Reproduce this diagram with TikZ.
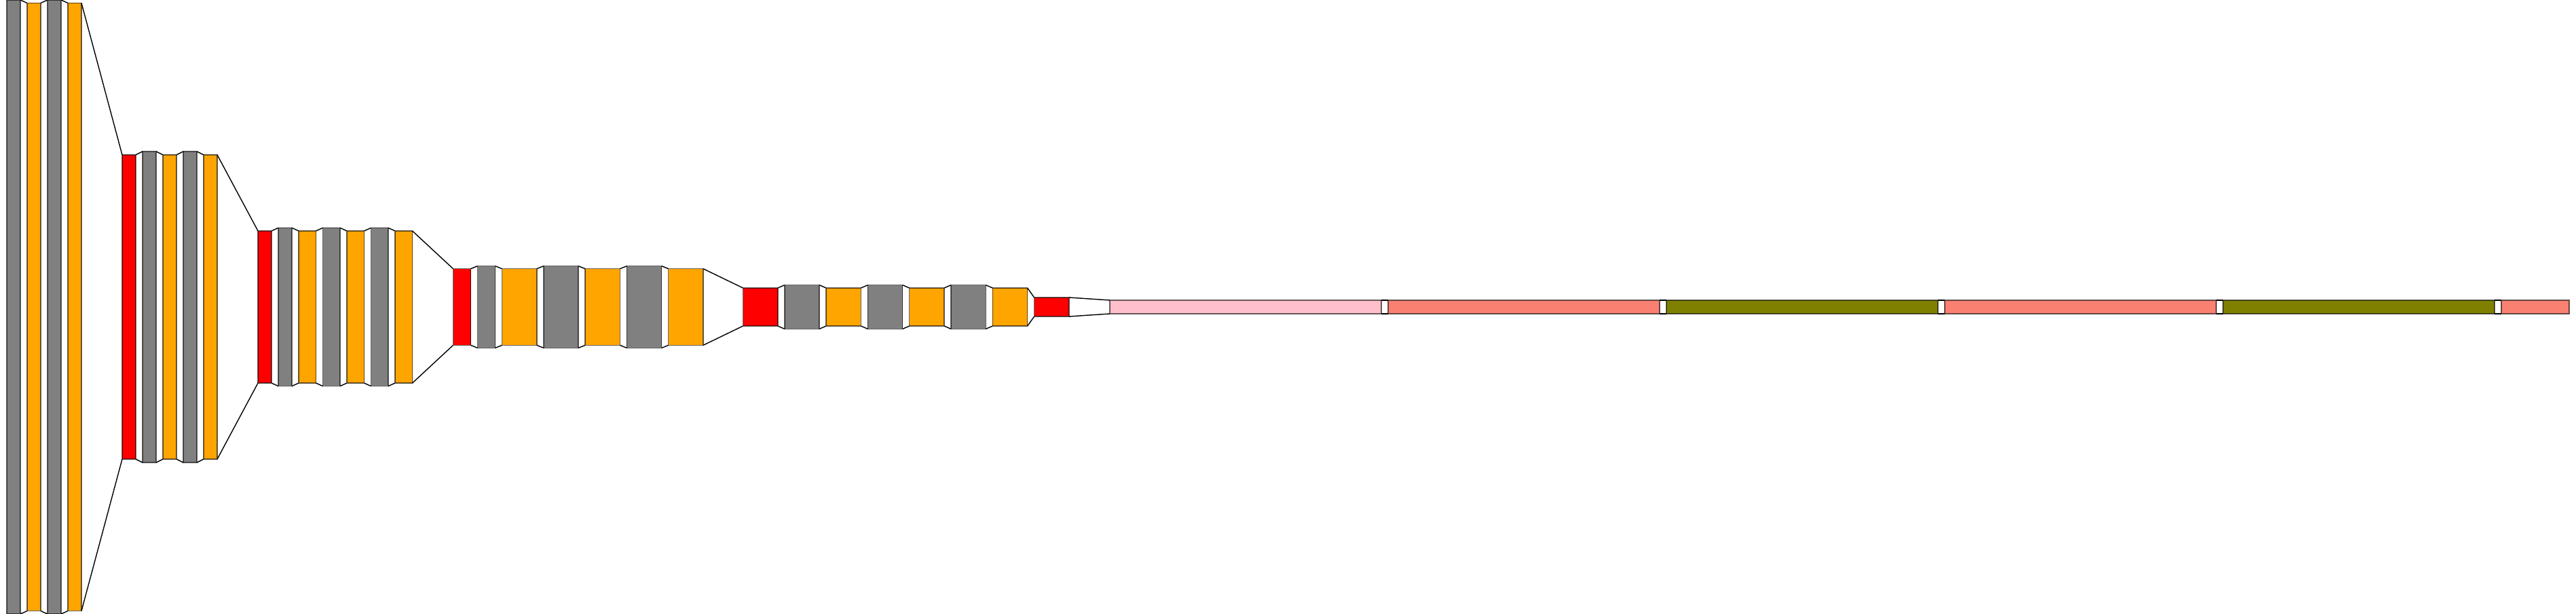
\documentclass[tikz,border=0pt]{standalone}
\usetikzlibrary{positioning}

\definecolor{convgray}{HTML}{808080}
\definecolor{reluorange}{HTML}{FFA500}
\definecolor{poolred}{HTML}{FF0000}
\definecolor{flatpink}{HTML}{FFC0CB}
\definecolor{densesalmon}{HTML}{FA8072}
\definecolor{dropolive}{HTML}{808000}

\begin{document}
\begin{tikzpicture}[
	  node distance=0.1cm,
	  layer/.style={rectangle, inner sep=0pt, outer sep=0pt, draw=black, draw opacity=0.6, line width=0.4pt},
	  conv/.style 2 args={layer, fill=convgray, minimum width=#1cm, minimum height=#2cm},
	  relu/.style 2 args={layer, fill=reluorange, minimum width=#1cm, minimum height=#2cm},
	  pool/.style 2 args={layer, fill=poolred, minimum width=#1cm, minimum height=#2cm},
	  flat/.style 2 args={layer, fill=flatpink, minimum width=#1cm, minimum height=#2cm},
	  dense/.style 2 args={layer, fill=densesalmon, minimum width=#1cm, minimum height=#2cm},
	  drop/.style 2 args={layer, fill=dropolive, minimum width=#1cm, minimum height=#2cm},
	  link/.style={draw=black, line width=0.4pt}
	]
	\useasboundingbox (0,-4.52) rectangle (37.95,4.52);

	% block 1
	\node (conv1a) [conv={0.2}{9.04}, anchor=west] at (0.1,0) {};
	\node (relu1a) [relu={0.2}{8.95}, right=of conv1a] {};
	\node (conv1b) [conv={0.2}{9.04}, right=of relu1a] {};
	\node (relu1b) [relu={0.2}{8.95}, right=of conv1b] {};
	% block 2
	\node (pool1) [pool={0.2}{4.48}, right=0.6cm of relu1b] {};
	\node (conv2a) [conv={0.2}{4.58}, right=of pool1] {};
	\node (relu2a) [relu={0.2}{4.48}, right=of conv2a] {};
	\node (conv2b) [conv={0.2}{4.58}, right=of relu2a] {};
	\node (relu2b) [relu={0.2}{4.48}, right=of conv2b] {};
	% block 3
	\node (pool2) [pool={0.2}{2.24}, right=0.6cm of relu2b] {};
	\node (conv3a) [conv={0.2}{2.33}, right=of pool2] {};
	\node (relu3a) [relu={0.255}{2.24}, right=of conv3a] {};
	\node (conv3b) [conv={0.255}{2.33}, right=of relu3a] {};
	\node (relu3b) [relu={0.255}{2.24}, right=of conv3b] {};
	\node (conv3c) [conv={0.255}{2.33}, right=of relu3b] {};
	\node (relu3c) [relu={0.255}{2.24}, right=of conv3c] {};
	% block 4
	\node (pool3) [pool={0.26}{1.126}, right=0.6cm of relu3c] {};
	\node (conv4a) [conv={0.26}{1.206}, right=of pool3] {};
	\node (relu4a) [relu={0.513}{1.126}, right=of conv4a] {};
	\node (conv4b) [conv={0.513}{1.206}, right=of relu4a] {};
	\node (relu4b) [relu={0.513}{1.126}, right=of conv4b] {};
	\node (conv4c) [conv={0.513}{1.206}, right=of relu4b] {};
	\node (relu4c) [relu={0.513}{1.126}, right=of conv4c] {};
	% block 5
	\node (pool4) [pool={0.513}{0.56}, right=0.585cm of relu4c] {};
	\node (conv5a) [conv={0.513}{0.646}, right=of pool4] {};
	\node (relu5a) [relu={0.513}{0.56}, right=of conv5a] {};
	\node (conv5b) [conv={0.513}{0.646}, right=of relu5a] {};
	\node (relu5b) [relu={0.513}{0.56}, right=of conv5b] {};
	\node (conv5c) [conv={0.513}{0.646}, right=of relu5b] {};
	\node (relu5c) [relu={0.513}{0.56}, right=of conv5c] {};
	\node (pool5) [pool={0.513}{0.28}, right=of relu5c] {};
	% classifier
	\node (flatten) [flat={4.0}{0.2}, right=0.6cm of pool5] {};
	\node (dense1) [dense={4.0}{0.2}, right=of flatten] {};
	\node (drop1) [drop={4.0}{0.2}, right=of dense1] {};
	\node (dense2) [dense={4.0}{0.2}, right=of drop1] {};
	\node (drop2) [drop={4.0}{0.2}, right=of dense2] {};
	\node (dense3) [dense={1.0}{0.2}, right=of drop2] {};

	\draw [link] (conv1a.north east) -- (relu1a.north west) (conv1a.south east) -- (relu1a.south west);
	\draw [link] (relu1a.north east) -- (conv1b.north west) (relu1a.south east) -- (conv1b.south west);
	\draw [link] (conv1b.north east) -- (relu1b.north west) (conv1b.south east) -- (relu1b.south west);
	\draw [link] (relu1b.north east) -- (pool1.north west) (relu1b.south east) -- (pool1.south west);
	\draw [link] (pool1.north east) -- (conv2a.north west) (pool1.south east) -- (conv2a.south west);
	\draw [link] (conv2a.north east) -- (relu2a.north west) (conv2a.south east) -- (relu2a.south west);
	\draw [link] (relu2a.north east) -- (conv2b.north west) (relu2a.south east) -- (conv2b.south west);
	\draw [link] (conv2b.north east) -- (relu2b.north west) (conv2b.south east) -- (relu2b.south west);
	\draw [link] (relu2b.north east) -- (pool2.north west) (relu2b.south east) -- (pool2.south west);
	\draw [link] (pool2.north east) -- (conv3a.north west) (pool2.south east) -- (conv3a.south west);
	\draw [link] (conv3a.north east) -- (relu3a.north west) (conv3a.south east) -- (relu3a.south west);
	\draw [link] (relu3a.north east) -- (conv3b.north west) (relu3a.south east) -- (conv3b.south west);
	\draw [link] (conv3b.north east) -- (relu3b.north west) (conv3b.south east) -- (relu3b.south west);
	\draw [link] (relu3b.north east) -- (conv3c.north west) (relu3b.south east) -- (conv3c.south west);
	\draw [link] (conv3c.north east) -- (relu3c.north west) (conv3c.south east) -- (relu3c.south west);
	\draw [link] (relu3c.north east) -- (pool3.north west) (relu3c.south east) -- (pool3.south west);
	\draw [link] (pool3.north east) -- (conv4a.north west) (pool3.south east) -- (conv4a.south west);
	\draw [link] (conv4a.north east) -- (relu4a.north west) (conv4a.south east) -- (relu4a.south west);
	\draw [link] (relu4a.north east) -- (conv4b.north west) (relu4a.south east) -- (conv4b.south west);
	\draw [link] (conv4b.north east) -- (relu4b.north west) (conv4b.south east) -- (relu4b.south west);
	\draw [link] (relu4b.north east) -- (conv4c.north west) (relu4b.south east) -- (conv4c.south west);
	\draw [link] (conv4c.north east) -- (relu4c.north west) (conv4c.south east) -- (relu4c.south west);
	\draw [link] (relu4c.north east) -- (pool4.north west) (relu4c.south east) -- (pool4.south west);
	\draw [link] (pool4.north east) -- (conv5a.north west) (pool4.south east) -- (conv5a.south west);
	\draw [link] (conv5a.north east) -- (relu5a.north west) (conv5a.south east) -- (relu5a.south west);
	\draw [link] (relu5a.north east) -- (conv5b.north west) (relu5a.south east) -- (conv5b.south west);
	\draw [link] (conv5b.north east) -- (relu5b.north west) (conv5b.south east) -- (relu5b.south west);
	\draw [link] (relu5b.north east) -- (conv5c.north west) (relu5b.south east) -- (conv5c.south west);
	\draw [link] (conv5c.north east) -- (relu5c.north west) (conv5c.south east) -- (relu5c.south west);
	\draw [link] (relu5c.north east) -- (pool5.north west) (relu5c.south east) -- (pool5.south west);
	\draw [link] (pool5.north east) -- (flatten.north west) (pool5.south east) -- (flatten.south west);
	\draw [link] (flatten.north east) -- (dense1.north west) (flatten.south east) -- (dense1.south west);
	\draw [link] (dense1.north east) -- (drop1.north west) (dense1.south east) -- (drop1.south west);
	\draw [link] (drop1.north east) -- (dense2.north west) (drop1.south east) -- (dense2.south west);
	\draw [link] (dense2.north east) -- (drop2.north west) (dense2.south east) -- (drop2.south west);
	\draw [link] (drop2.north east) -- (dense3.north west) (drop2.south east) -- (dense3.south west);

	\end{tikzpicture}
\end{document}
